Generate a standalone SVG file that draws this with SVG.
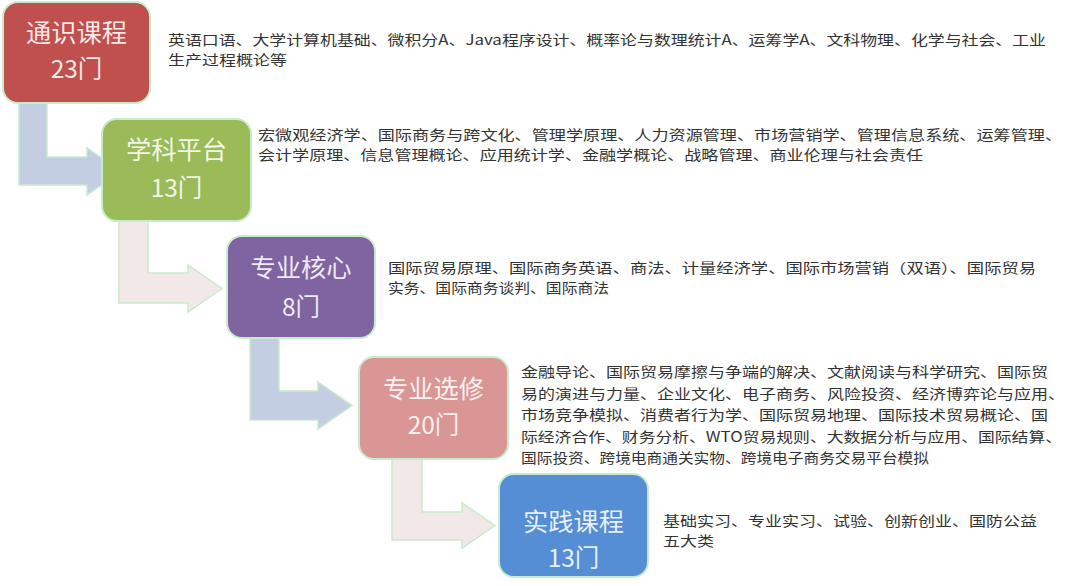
<svg xmlns="http://www.w3.org/2000/svg" width="1080" height="586" viewBox="0 0 1080 586">
<style>
.box{stroke:#c6eccb;stroke-width:2}
.arr{stroke:#c6eccb;stroke-width:1.5}
.blue{fill:#c4cee2}
.pink{fill:#f2e8e8}
.t{font-family:"Noto Sans CJK SC","Noto Sans",sans-serif;font-size:24.5px;fill:#ffffff;fill-opacity:0.88;text-anchor:middle}
.d{font-family:"Noto Sans CJK SC","Noto Sans",sans-serif;font-size:13.8px;fill:#333333}
</style>
<rect width="1080" height="586" fill="#ffffff"/>
<g id="connectors">
<polygon class="arr blue" points="19,100 47,100 47,157 87,157 87,148 121,171.5 87,195 87,185 19,185"/>
<polygon class="arr pink" points="119,218 148,218 148,273 188,273 188,265 222,288.5 188,312 188,303 119,303"/>
<polygon class="arr blue" points="250,335 279,335 279,391 318,391 318,382 352,405.5 318,429 318,420 250,420"/>
<polygon class="arr pink" points="392,456 422,456 422,512 462,512 462,503 495,525.5 462,548 462,540 392,540"/>
</g>
<g id="node1">
<rect class="box" x="3" y="2" width="147" height="101" rx="15" fill="#c0504d"/>
<text class="t" x="76.5" y="41.5" textLength="101" lengthAdjust="spacingAndGlyphs">通识课程</text>
<text class="t" x="76.5" y="77.5">23门</text>
<text class="d" x="168" y="44.5" textLength="878" lengthAdjust="spacingAndGlyphs">英语口语、大学计算机基础、微积分A、Java程序设计、概率论与数理统计A、运筹学A、文科物理、化学与社会、工业</text>
<text class="d" x="168" y="64.5" textLength="119" lengthAdjust="spacingAndGlyphs">生产过程概论等</text>
</g>
<g id="node2">
<rect class="box" x="102" y="119" width="149" height="102" rx="15" fill="#9bbb59"/>
<text class="t" x="176.5" y="158.5" textLength="101" lengthAdjust="spacingAndGlyphs">学科平台</text>
<text class="t" x="176.5" y="196.5">13门</text>
<text class="d" x="258" y="139.5" textLength="804" lengthAdjust="spacingAndGlyphs">宏微观经济学、国际商务与跨文化、管理学原理、人力资源管理、市场营销学、管理信息系统、运筹管理、</text>
<text class="d" x="258" y="159.5" textLength="665" lengthAdjust="spacingAndGlyphs">会计学原理、信息管理概论、应用统计学、金融学概论、战略管理、商业伦理与社会责任</text>
</g>
<g id="node3">
<rect class="box" x="227" y="236" width="148" height="102" rx="15" fill="#8064a2"/>
<text class="t" x="301" y="276.5" textLength="101" lengthAdjust="spacingAndGlyphs">专业核心</text>
<text class="t" x="301" y="315.5">8门</text>
<text class="d" x="388" y="272.5" textLength="648" lengthAdjust="spacingAndGlyphs">国际贸易原理、国际商务英语、商法、计量经济学、国际市场营销（双语）、国际贸易</text>
<text class="d" x="388" y="292.5" textLength="221" lengthAdjust="spacingAndGlyphs">实务、国际商务谈判、国际商法</text>
</g>
<g id="node4">
<rect class="box" x="359" y="357" width="149" height="102" rx="15" fill="#d99694"/>
<text class="t" x="433.5" y="398" textLength="101" lengthAdjust="spacingAndGlyphs">专业选修</text>
<text class="t" x="433.5" y="434">20门</text>
<text class="d" x="521" y="377" textLength="527" lengthAdjust="spacingAndGlyphs">金融导论、国际贸易摩擦与争端的解决、文献阅读与科学研究、国际贸</text>
<text class="d" x="521" y="398.5" textLength="544" lengthAdjust="spacingAndGlyphs">易的演进与力量、企业文化、电子商务、风险投资、经济博弈论与应用、</text>
<text class="d" x="521" y="420" textLength="527" lengthAdjust="spacingAndGlyphs">市场竞争模拟、消费者行为学、国际贸易地理、国际技术贸易概论、国</text>
<text class="d" x="521" y="441.5" textLength="541" lengthAdjust="spacingAndGlyphs">际经济合作、财务分析、WTO贸易规则、大数据分析与应用、国际结算、</text>
<text class="d" x="521" y="463" textLength="408" lengthAdjust="spacingAndGlyphs">国际投资、跨境电商通关实物、跨境电子商务交易平台模拟</text>
</g>
<g id="node5">
<rect class="box" x="499" y="474" width="149" height="103" rx="15" fill="#558ed5"/>
<text class="t" x="573.5" y="531" textLength="101" lengthAdjust="spacingAndGlyphs">实践课程</text>
<text class="t" x="573.5" y="567">13门</text>
<text class="d" x="663" y="526" textLength="374" lengthAdjust="spacingAndGlyphs">基础实习、专业实习、试验、创新创业、国防公益</text>
<text class="d" x="663" y="546" textLength="51" lengthAdjust="spacingAndGlyphs">五大类</text>
</g>
</svg>
